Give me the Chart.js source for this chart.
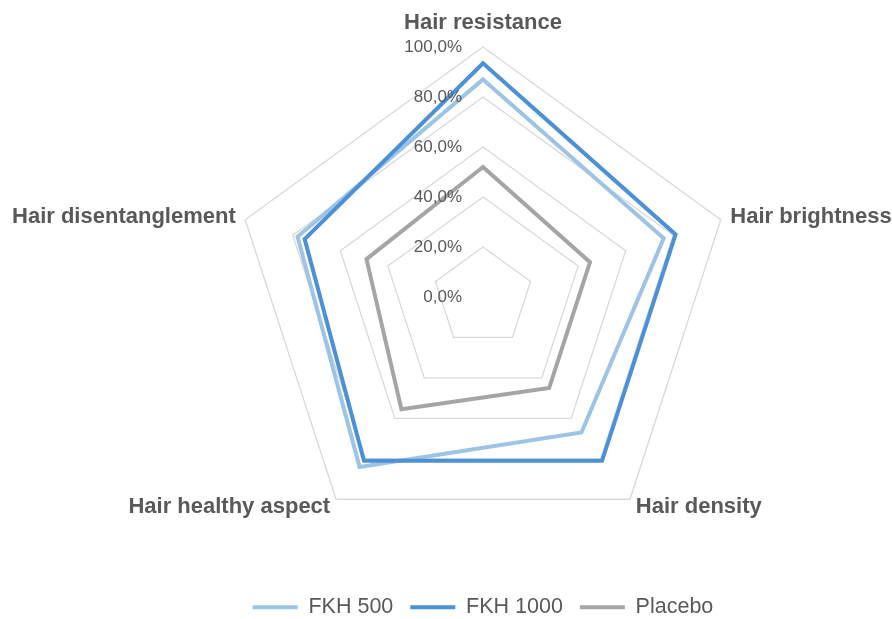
<!DOCTYPE html>
<html>
<head>
<meta charset="utf-8">
<script src="https://cdn.jsdelivr.net/npm/chart.js@4/dist/chart.umd.min.js"></script>
<style>
  html, body { margin: 0; padding: 0; background: #ffffff; }
  #wrap { width: 892px; height: 619px; position: relative; }
</style>
</head>
<body>
<div id="wrap"><canvas id="chart"></canvas></div>
<script>
// Hair attributes scored on each spoke of the radar
const categories = ['Hair resistance', 'Hair brightness', 'Hair density', 'Hair healthy aspect', 'Hair disentanglement'];

// Percent scores per treatment group
const fkh500  = [87, 76, 67, 84, 78];
const fkh1000 = [93.5, 81, 81, 81, 75];
const placebo = [52, 45, 45, 55.5, 49];

// Radial axis ticks
const tickValues = [0, 20, 40, 60, 80, 100];
const tickLabels = ['0,0%', '20,0%', '40,0%', '60,0%', '80,0%', '100,0%'];

const FONT = '"Liberation Sans", Arial, Helvetica, sans-serif';
const TEXT = '#595959';

// Draws the percentage ticks beside the vertical spoke and the category names
const radarText = {
  id: 'radarText',
  afterDatasetsDraw(chart) {
    const s = chart.scales.r;
    const ctx = chart.ctx;
    ctx.save();
    ctx.fillStyle = TEXT;
    ctx.font = '17px ' + FONT;
    ctx.textAlign = 'right';
    ctx.textBaseline = 'middle';
    tickValues.forEach((v, i) => {
      const d = s.getDistanceFromCenterForValue(v);
      ctx.fillText(tickLabels[i], s.xCenter - 21, s.yCenter - d);
    });

    ctx.font = 'bold 22px ' + FONT;
    categories.forEach((label, i) => {
      const p = s.getPointPosition(i, s.drawingArea + 10);
      const dx = p.x - s.xCenter;
      const align = Math.abs(dx) < 1 ? 'center' : (dx > 0 ? 'left' : 'right');
      const y = align === 'center' ? p.y - 14 : p.y;
      ctx.textAlign = align;
      ctx.fillText(label, p.x, y);
    });
    ctx.restore();
  }
};

new Chart(document.getElementById('chart'), {
  type: 'radar',
  data: {
    labels: categories,
    datasets: [
      { label: 'FKH 500',  data: fkh500,  borderColor: '#9DC3E6', backgroundColor: '#9DC3E6', borderWidth: 4, fill: false, order: 1 },
      { label: 'FKH 1000', data: fkh1000, borderColor: '#4C91D5', backgroundColor: '#4C91D5', borderWidth: 4, fill: false, order: 0 },
      { label: 'Placebo',  data: placebo, borderColor: '#A5A5A5', backgroundColor: '#A5A5A5', borderWidth: 4, fill: false, order: 2 }
    ]
  },
  options: {
    responsive: true,
    maintainAspectRatio: false,
    animation: false,
    layout: { padding: { top: 16, left: 233, right: 159, bottom: -9 } },
    elements: {
      line: { tension: 0, borderJoinStyle: 'miter' },
      point: { radius: 0, hoverRadius: 0, hitRadius: 0 }
    },
    scales: {
      r: {
        min: 0,
        max: 100,
        ticks: { display: false, stepSize: 20 },
        grid: { color: '#d9d9d9', lineWidth: 1.3 },
        angleLines: { display: false },
        pointLabels: { display: false }
      }
    },
    plugins: {
      legend: {
        position: 'bottom',
        labels: {
          usePointStyle: true,
          pointStyle: 'line',
          pointStyleWidth: 45,
          padding: 17,
          color: TEXT,
          font: { size: 21.5, family: FONT },
          sort: (a, b) => a.datasetIndex - b.datasetIndex
        }
      },
      tooltip: { enabled: false }
    }
  },
  plugins: [radarText]
});
</script>
</body>
</html>
